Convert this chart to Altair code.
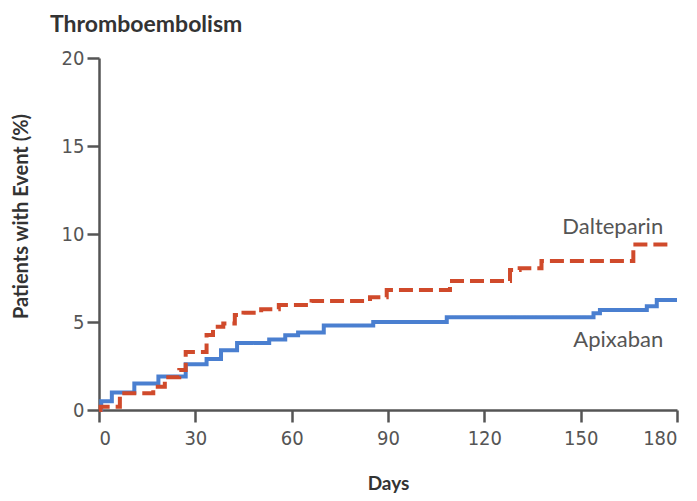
import altair as alt
import pandas as pd

# Apixaban (blue, solid) cumulative incidence
api_days = [0, 0.7, 4, 11, 18.5, 27, 33.5, 38, 43, 53, 58, 62, 70, 85.4, 108.3, 154, 156, 170.6, 173.7, 180]
api_pct = [0, 0.5, 1.0, 1.5, 1.9, 2.6, 2.9, 3.4, 3.8, 4.0, 4.25, 4.4, 4.8, 5.0, 5.27, 5.5, 5.68, 5.9, 6.25, 6.25]

# Dalteparin (red, dashed) cumulative incidence
dal_days = [0, 0.5, 6.5, 16.9, 20.5, 25, 27, 33.5, 35.5, 38.7, 42.3, 45, 50.5, 56, 66.2, 84.4, 89.6, 109.3, 128, 131, 137.8, 166.4, 178]
dal_pct = [0, 0.19, 0.95, 1.32, 1.86, 2.27, 3.3, 4.26, 4.73, 4.92, 5.4, 5.53, 5.72, 5.97, 6.19, 6.4, 6.82, 7.33, 7.95, 8.05, 8.47, 9.41, 9.41]

series_names = ["Apixaban", "Dalteparin"]
series_colors = ["#4a7fd0", "#d04a2b"]

label_text = ["Dalteparin", "Apixaban"]
label_day = [175.7, 175.7]
label_pct = [10.0, 3.58]

x_ticks = [0, 30, 60, 90, 120, 150, 180]
y_ticks = [0, 5, 10, 15, 20]

df = pd.concat([
    pd.DataFrame({"day": api_days, "pct": api_pct, "series": "Apixaban"}),
    pd.DataFrame({"day": dal_days, "pct": dal_pct, "series": "Dalteparin"}),
])
lab = pd.DataFrame({"day": label_day, "pct": label_pct, "label": label_text})
ttl = pd.DataFrame({"t": ["Thromboembolism"]})

tick_font = "DejaVu Sans Condensed"
x_scale = alt.Scale(domain=[0, 180], nice=False)
y_scale = alt.Scale(domain=[0, 20], nice=False)

x_axis = alt.Axis(
    values=x_ticks, grid=False, domainColor="#555", domainWidth=2.5,
    tickColor="#555", tickWidth=2.5, tickSize=12,
    labelFont=tick_font, labelFontSize=20, labelColor="#555", labelPadding=6,
    title="Days", titleFont="Lato", titleFontWeight="bold", titleFontSize=19,
    titleColor="#333", titleY=79, titleBaseline="alphabetic",
)
y_axis = alt.Axis(
    values=y_ticks, grid=False, domainColor="#555", domainWidth=2.5,
    tickColor="#555", tickWidth=2.5, tickSize=12,
    labelFont=tick_font, labelFontSize=20, labelColor="#555", labelPadding=3,
    title="Patients with Event (%)", titleFont="Lato", titleFontWeight="bold",
    titleFontSize=20, titleColor="#333", titleX=-78, titleY=158,
    titleAngle=270, titleAlign="center", titleBaseline="middle",
)

lines = alt.Chart(df).mark_line(interpolate="step-after", strokeWidth=4).encode(
    x=alt.X("day:Q", scale=x_scale, axis=x_axis),
    y=alt.Y("pct:Q", scale=y_scale, axis=y_axis),
    color=alt.Color("series:N", scale=alt.Scale(domain=series_names, range=series_colors), legend=None),
    strokeDash=alt.StrokeDash("series:N", scale=alt.Scale(domain=series_names, range=[[1, 0], [14, 6]]), legend=None),
)

labels = alt.Chart(lab).mark_text(
    align="right", baseline="alphabetic", font="Lato", fontSize=22, color="#555"
).encode(
    x=alt.X("day:Q", scale=x_scale),
    y=alt.Y("pct:Q", scale=y_scale),
    text="label:N",
)

title = alt.Chart(ttl).mark_text(
    align="left", baseline="alphabetic", font="Lato", fontWeight="bold", fontSize=23, color="#333"
).encode(x=alt.value(-49), y=alt.value(-26), text="t:N")

chart = alt.layer(lines, labels, title).properties(
    width=578, height=352,
    autosize=alt.AutoSizeParams(type="none"),
    padding={"left": 91, "top": 50, "right": 12, "bottom": 83},
).configure_view(stroke=None)

chart.save("out.html", embed_options={"renderer": "svg", "actions": False})
